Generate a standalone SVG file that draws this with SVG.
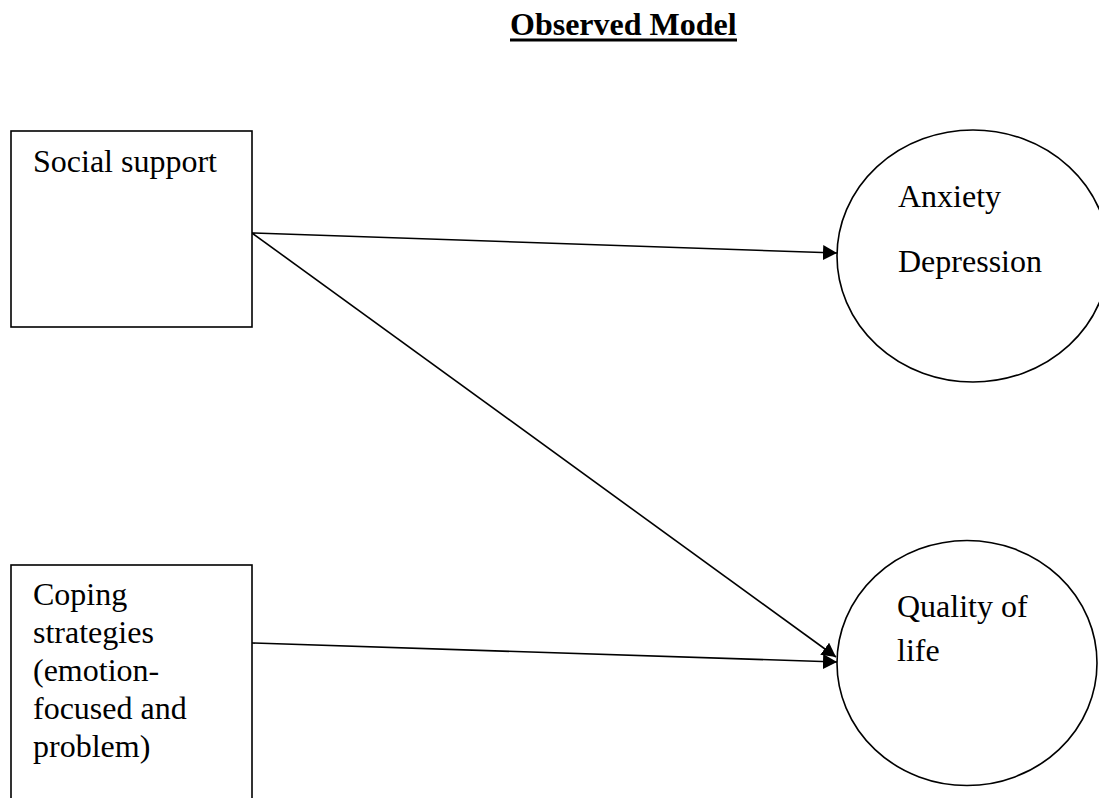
<svg xmlns="http://www.w3.org/2000/svg" width="1099" height="798" viewBox="0 0 1099 798">
<style>
.t{font-family:"Liberation Serif","Times New Roman",serif;font-size:32px;fill:#000}
.b{font-weight:bold}
.shape{fill:#fff;stroke:#000;stroke-width:1.6}
.conn{stroke:#000;stroke-width:1.6;fill:none;marker-end:url(#ah)}
</style>
<defs>
<marker id="ah" viewBox="0 0 14 15" refX="14" refY="7.5" markerWidth="14" markerHeight="15" markerUnits="userSpaceOnUse" orient="auto">
<path d="M0,0 L14,7.5 L0,15 Z" fill="#000"/>
</marker>
</defs>
<rect width="1099" height="798" fill="#fff"/>
<g id="title">
<text class="t b" x="510" y="35">Observed Model</text>
<rect x="510" y="38.5" width="227" height="3" fill="#000"/>
</g>
<g id="connectors">
<line class="conn" x1="252" y1="233" x2="837" y2="253"/>
<line class="conn" x1="252" y1="233" x2="836" y2="657"/>
<line class="conn" x1="252" y1="643" x2="837" y2="662"/>
</g>
<g id="social-support">
<rect class="shape" x="11" y="131" width="241" height="196"/>
<text class="t" x="33" y="172">Social support</text>
</g>
<g id="coping-strategies">
<rect class="shape" x="11" y="565" width="241" height="260"/>
<text class="t" x="33" y="605">Coping</text>
<text class="t" x="33" y="643">strategies</text>
<text class="t" x="33" y="681">(emotion-</text>
<text class="t" x="33" y="719">focused and</text>
<text class="t" x="33" y="757">problem)</text>
</g>
<g id="anxiety-depression">
<ellipse class="shape" cx="973" cy="256" rx="136" ry="126"/>
<text class="t" x="898" y="207">Anxiety</text>
<text class="t" x="898" y="272">Depression</text>
</g>
<g id="quality-of-life">
<ellipse class="shape" cx="967" cy="663" rx="130" ry="122.5"/>
<text class="t" x="897" y="617">Quality of</text>
<text class="t" x="897" y="661">life</text>
</g>
</svg>
